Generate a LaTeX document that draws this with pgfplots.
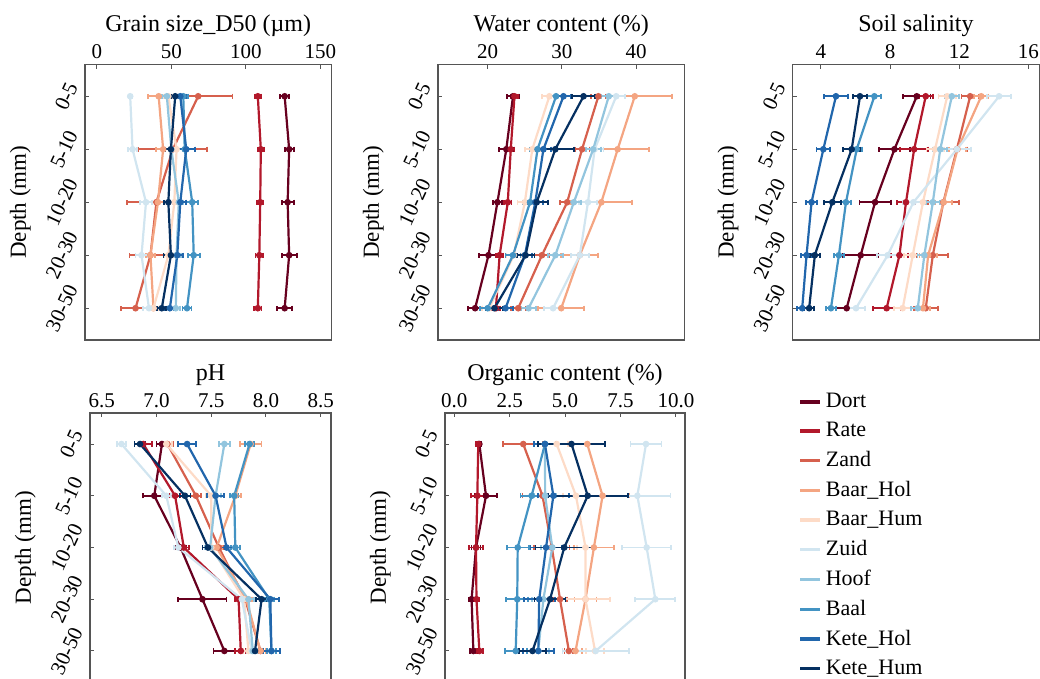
\documentclass[border=0pt]{standalone}
\usepackage{fontspec}
\setmainfont{Liberation Serif}
\usepackage{pgfplots}
\pgfplotsset{compat=1.18}
\usepackage{pgfplotstable}

\definecolor{Dort}{HTML}{67001F}
\definecolor{Rate}{HTML}{B2182B}
\definecolor{Zand}{HTML}{D6604D}
\definecolor{BHol}{HTML}{F4A582}
\definecolor{BHum}{HTML}{FDDBC7}
\definecolor{Zuid}{HTML}{D1E5F0}
\definecolor{Hoof}{HTML}{92C5DE}
\definecolor{Baal}{HTML}{4393C3}
\definecolor{KHol}{HTML}{2166AC}
\definecolor{KHum}{HTML}{053061}
\definecolor{frame}{HTML}{555555}

% Grain size D50
\pgfplotstableread{
y Dort eDort Rate eRate Zand eZand BHol eBHol BHum eBHum Zuid eZuid Hoof eHoof Baal eBaal KHol eKHol KHum eKHum
0 126 3 108 2 68 23 41.5 7 48 3 22.4 1 47 3 58 3 56 4 52.6 3
1 129 3 110 2 51 23 44.5 5 53.5 4 24 3 50 4 59 7 60 6 49.7 4
2 128 4 109.6 2 40 20 41 4 52 3 33 4 55 3 64 4 56 4 48 3
3 129 5 109 2.5 36 14 36 3 48 3 30 4 53.5 3 65 4 54 4 49.7 5
4 126 5 108 2.5 26 10 38 3 38 3 35 4 53 3 60.5 3 49 3 43.6 3
}\tGrain

% Water content
\pgfplotstableread{
y Dort eDort Rate eRate Zand eZand BHol eBHol BHum eBHum Zuid eZuid Hoof eHoof Baal eBaal KHol eKHol KHum eKHum
0 23.4 0.8 23.6 0.5 34.9 1 39.8 5 28.3 1 37.3 1.2 36.3 1 29.2 1 30.2 1 32.9 1.5
1 22.5 1.0 23.1 0.5 32.7 1 37.5 4.2 26 1 34.4 1.2 34.2 1 26.7 1 27.5 1 29.1 2.5
2 21.3 0.6 22.7 0.5 30.7 1 35.3 4.1 25 1 33.5 1.2 31.6 1 25.7 1 26.4 1 26.6 1.5
3 20.1 1.3 21.6 0.5 27.3 1 32.4 2.5 23.5 1 32.4 1.2 29.1 1 23.4 1 25.0 1 25.1 1.2
4 18.3 1.0 21.1 0.5 24.1 1 29.9 3.1 20.2 1 28.8 1.2 25.5 1 20.0 1 22.4 1 20.9 1.2
}\tWater

% Soil salinity
\pgfplotstableread{
y Dort eDort Rate eRate Zand eZand BHol eBHol BHum eBHum Zuid eZuid Hoof eHoof Baal eBaal KHol eKHol KHum eKHum
0 9.54 0.8 10.06 0.4 12.63 0.5 13.27 0.4 11.3 0.5 14.3 0.7 11.57 0.4 7.09 0.4 4.87 0.7 6.26 0.4
1 8.25 0.9 9.39 0.8 11.86 0.6 11.9 0.5 10.6 0.5 11.86 0.8 10.9 0.4 6.07 0.3 4.14 0.4 5.78 0.5
2 7.13 0.9 8.92 0.5 11.08 0.9 11.1 0.5 9.9 0.5 9.35 0.6 10.47 0.4 5.45 0.3 3.46 0.3 4.66 0.5
3 6.3 1.0 8.54 0.5 10.47 0.9 10.2 0.5 9.31 0.5 7.86 0.6 9.98 0.4 5.04 0.3 3.17 0.3 3.65 0.3
4 5.49 0.6 7.8 0.8 10.06 0.7 9.9 0.4 8.73 0.5 6.03 0.5 9.6 0.4 4.58 0.3 2.92 0.3 3.32 0.3
}\tSal

% pH
\pgfplotstableread{
y Dort eDort Rate eRate Zand eZand BHol eBHol BHum eBHum Zuid eZuid Hoof eHoof Baal eBaal KHol eKHol KHum eKHum
0 7.05 0.05 6.88 0.08 7.10 0.05 7.86 0.1 7.09 0.05 6.68 0.04 7.62 0.05 7.85 0.04 7.28 0.08 6.85 0.05
1 6.98 0.10 7.17 0.05 7.36 0.05 7.72 0.05 7.50 0.05 7.09 0.04 7.54 0.05 7.71 0.04 7.54 0.08 7.26 0.05
2 7.22 0.05 7.25 0.05 7.57 0.05 7.55 0.05 7.50 0.05 7.20 0.04 7.49 0.05 7.72 0.04 7.64 0.08 7.47 0.05
3 7.42 0.22 7.75 0.03 7.81 0.05 7.82 0.05 7.80 0.05 7.78 0.04 7.84 0.05 8.03 0.04 8.04 0.08 7.96 0.05
4 7.62 0.10 7.77 0.05 7.95 0.05 7.95 0.05 7.84 0.05 7.87 0.04 7.88 0.05 8.05 0.04 8.05 0.08 7.90 0.05
}\tPH

% Organic content
\pgfplotstableread{
y Dort eDort Rate eRate Zand eZand BHol eBHol BHum eBHum Zuid eZuid Hoof eHoof Baal eBaal KHol eKHol KHum eKHum
0 1.13 0.1 1.08 0.1 3.11 0.9 6.0 0.8 4.62 0.5 8.65 0.7 4.09 0.5 4.09 0.5 4.09 0.5 5.29 1.5
1 1.43 0.5 1.04 0.3 3.98 0.9 6.69 1.2 5.49 0.6 8.26 1.5 4.1 0.5 3.49 0.5 4.47 0.7 6.02 1.8
2 0.98 0.2 0.98 0.3 4.4 0.8 6.3 0.9 5.92 0.4 8.68 1.1 4.42 0.5 2.86 0.5 4.14 0.7 4.96 1.3
3 0.78 0.1 1.0 0.1 4.77 0.3 5.92 0.5 5.92 1.1 9.07 0.9 4.02 0.5 2.84 0.5 3.83 0.7 4.32 0.7
4 0.86 0.15 1.13 0.15 5.17 0.2 5.47 0.3 6.35 0.4 6.38 1.5 3.79 0.5 2.77 0.5 3.79 0.7 3.53 0.6
}\tOrg

\newcommand{\rl}[1]{\rotatebox{65}{#1}}

\pgfplotsset{
  every axis title shift=0pt,
  ser/.style={color=#1, mark=*, mark size=1.4pt, line width=1.1pt,
    mark options={solid, fill=#1, draw=#1, line width=0.5pt},
    error bars/.cd, x dir=both, x explicit,
    error bar style={line width=0.9pt, #1},
    error mark options={rotate=90, mark size=1.3pt, line width=0.9pt, #1}},
  panel/.style={
    scale only axis,
    ymin=-0.6, ymax=4.6, y dir=reverse,
    ytick={0,1,2,3,4},
    yticklabels={\rl{0-5},\rl{5-10},\rl{10-20},\rl{20-30},\rl{30-50}},
    xtick pos=right, xticklabel pos=right, ytick pos=left,
    tick align=inside, major tick length=2pt,
    axis line style={draw=frame, line width=0.65pt},
    every tick/.style={frame, line width=0.5pt},
    tick label style={font=\fontsize{10.5}{12}\selectfont},
    /pgf/number format/assume math mode=true,
    yticklabel style={anchor=east, xshift=-3pt, inner sep=0pt},
    xticklabel style={anchor=base, yshift=3pt, inner sep=0pt},
    title style={at={(0.5,1)}, anchor=base, yshift=16.3pt, inner sep=0pt, font=\fontsize{12}{14}\selectfont},
    ylabel={Depth (mm)},
    every axis y label/.style={at={([xshift=-29.6pt]rel axis cs:0,0.5)}, rotate=90, anchor=base, inner sep=0pt, font=\fontsize{11.5}{13}\selectfont},
  },
  row1/.style={panel, width=123.25pt, height=137.75pt},
  row2/.style={panel, width=120.5pt, height=134.5pt},
}

\newcommand{\plotall}[1]{%
  \addplot[ser=Dort] table[x=Dort, y=y, x error=eDort]{#1};
  \addplot[ser=Rate] table[x=Rate, y=y, x error=eRate]{#1};
  \addplot[ser=Zand] table[x=Zand, y=y, x error=eZand]{#1};
  \addplot[ser=BHol] table[x=BHol, y=y, x error=eBHol]{#1};
  \addplot[ser=BHum] table[x=BHum, y=y, x error=eBHum]{#1};
  \addplot[ser=Zuid] table[x=Zuid, y=y, x error=eZuid]{#1};
  \addplot[ser=Hoof] table[x=Hoof, y=y, x error=eHoof]{#1};
  \addplot[ser=Baal] table[x=Baal, y=y, x error=eBaal]{#1};
  \addplot[ser=KHol] table[x=KHol, y=y, x error=eKHol]{#1};
  \addplot[ser=KHum] table[x=KHum, y=y, x error=eKHum]{#1};
}

\begin{document}
\begin{tikzpicture}
\begin{axis}[row1, at={(42.5pt,-32.25pt)}, anchor=north west,
  title={Grain size\_D50 (µm)},
  xmin=-7.9, xmax=157.4, xtick={0,50,100,150}, xticklabels={0,50,100,150}]
\plotall{\tGrain}
\end{axis}

\begin{axis}[row1, at={(219pt,-32.25pt)}, anchor=north west,
  title={Water content (\%)},
  xmin=13.3, xmax=46.5, xtick={20,30,40}, xticklabels={20,30,40}]
\plotall{\tWater}
\end{axis}

\begin{axis}[row1, at={(396.35pt,-32.25pt)}, anchor=north west,
  title={Soil salinity},
  xmin=2.37, xmax=16.62, xtick={4,8,12,16}, xticklabels={4,8,12,16}]
\plotall{\tSal}
\end{axis}

\begin{axis}[row2, at={(45pt,-206.5pt)}, anchor=north west,
  title={pH},
  xmin=6.393, xmax=8.594, xtick={6.5,7,7.5,8,8.5}, xticklabels={6.5,7.0,7.5,8.0,8.5}]
\plotall{\tPH}
\end{axis}

\begin{axis}[row2, width=120pt, at={(222.5pt,-206.5pt)}, anchor=north west,
  title={Organic content (\%)},
  xmin=-0.42, xmax=10.41, xtick={0,2.5,5,7.5,10}, xticklabels={0.0,2.5,5.0,7.5,10.0},
  legend style={at={(1.471,1.089)}, anchor=north west, draw=none, fill=none,
    font=\fontsize{11}{13}\selectfont, inner sep=0pt, row sep=1.8pt,
    cells={anchor=west}},
  legend image code/.code={\draw[#1, mark=none, line width=1.7pt] (0pt,0pt) -- (10pt,0pt);}]
\plotall{\tOrg}
\legend{Dort,Rate,Zand,Baar\_Hol,Baar\_Hum,Zuid,Hoof,Baal,Kete\_Hol,Kete\_Hum}
\end{axis}

\pgfresetboundingbox
\useasboundingbox (0pt,0pt) rectangle (520pt,-339.5pt);
\end{tikzpicture}
\end{document}
